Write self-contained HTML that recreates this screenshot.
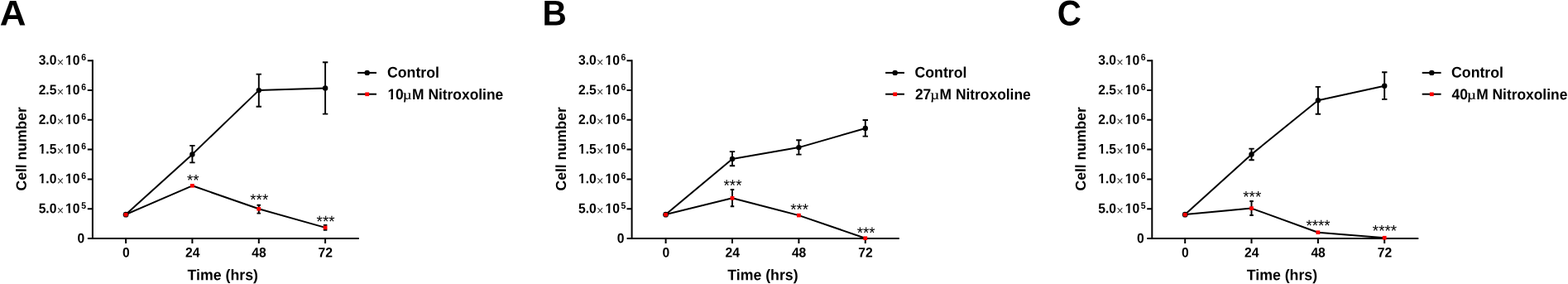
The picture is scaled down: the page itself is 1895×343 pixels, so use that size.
<!DOCTYPE html>
<html lang="en"><head><meta charset="utf-8"><title>Cell number vs time</title>
<style>
html,body{margin:0;padding:0;background:#fff;}
body{width:1895px;height:343px;overflow:hidden;}
svg{display:block;position:absolute;left:0;top:0;}
text{font-family:"Liberation Sans",sans-serif;font-weight:bold;fill:#000;}
.t{font-size:15.7px;}
.tt{font-size:17.75px;}
.lg{font-size:17.4px;}
.lgc{font-size:17.7px;}
.ty{font-size:17.5px;}
.L{font-size:42.9px;}
.s{font-size:18.8px;font-weight:normal;fill:#000;}
.x{font-weight:normal;font-size:14.5px;fill:#3a3a3a;}
.e{font-size:10.5px;}
.mu{font-family:"Liberation Serif","DejaVu Serif",serif;font-weight:normal;font-size:19px;stroke:#000;stroke-width:0.25;}
.m{fill:#fff;}
.ln{stroke:#000;stroke-width:2;fill:none;stroke-linecap:butt;stroke-linejoin:round;}
.eb{stroke:#000;stroke-width:1.9;fill:none;}
.ax{stroke:#000;stroke-width:2;fill:none;stroke-linecap:butt;}
</style></head><body>
<svg width="1895" height="343" viewBox="0 0 1895 343">
<rect width="1895" height="343" fill="#fff"/>
<g>
<g transform="translate(-0.34 30.45) rotate(0.04) scale(1.025 1)"><text id="t1" class="L">A</text></g>
<path class="ax" d="M111.9 72.2 V289.0"/>
<path class="ax" d="M105.9 288.0 H433.8"/>
<path class="ax" d="M105.8 73.2 H111.9M105.8 109.0 H111.9M105.8 144.8 H111.9M105.8 180.6 H111.9M105.8 216.4 H111.9M105.8 252.2 H111.9M152.1 288.0 V294.0M232.4 288.0 V294.0M312.8 288.0 V294.0M393.1 288.0 V294.0"/>
<g transform="translate(104.00 78.15) rotate(0.04) scale(1 1.06)"><text id="t2" class="t" text-anchor="end">3.0<tspan class="x" dx="0.3" dy="1.9">×</tspan><tspan dx="1.9" dy="-1.9">10</tspan><tspan class="e" dx="1.6" dy="-5">6</tspan></text><rect class="m" x="-24.70" y="-2.35" width="3.36" height="3.05"/><rect class="m" x="-18.95" y="-2.35" width="2.96" height="3.05"/></g>
<g transform="translate(104.00 113.96) rotate(0.04) scale(1 1.06)"><text id="t3" class="t" text-anchor="end">2.5<tspan class="x" dx="0.3" dy="1.9">×</tspan><tspan dx="1.9" dy="-1.9">10</tspan><tspan class="e" dx="1.6" dy="-5">6</tspan></text><rect class="m" x="-24.70" y="-2.35" width="3.36" height="3.05"/><rect class="m" x="-18.95" y="-2.35" width="2.96" height="3.05"/></g>
<g transform="translate(104.00 149.77) rotate(0.04) scale(1 1.06)"><text id="t4" class="t" text-anchor="end">2.0<tspan class="x" dx="0.3" dy="1.9">×</tspan><tspan dx="1.9" dy="-1.9">10</tspan><tspan class="e" dx="1.6" dy="-5">6</tspan></text><rect class="m" x="-24.70" y="-2.35" width="3.36" height="3.05"/><rect class="m" x="-18.95" y="-2.35" width="2.96" height="3.05"/></g>
<g transform="translate(104.00 185.57) rotate(0.04) scale(1 1.06)"><text id="t5" class="t" text-anchor="end">1.5<tspan class="x" dx="0.3" dy="1.9">×</tspan><tspan dx="1.9" dy="-1.9">10</tspan><tspan class="e" dx="1.6" dy="-5">6</tspan></text><rect class="m" x="-57.18" y="-2.35" width="3.36" height="3.05"/><rect class="m" x="-51.43" y="-2.35" width="2.96" height="3.05"/><rect class="m" x="-24.70" y="-2.35" width="3.36" height="3.05"/><rect class="m" x="-18.95" y="-2.35" width="2.96" height="3.05"/></g>
<g transform="translate(104.00 221.38) rotate(0.04) scale(1 1.06)"><text id="t6" class="t" text-anchor="end">1.0<tspan class="x" dx="0.3" dy="1.9">×</tspan><tspan dx="1.9" dy="-1.9">10</tspan><tspan class="e" dx="1.6" dy="-5">6</tspan></text><rect class="m" x="-57.18" y="-2.35" width="3.36" height="3.05"/><rect class="m" x="-51.43" y="-2.35" width="2.96" height="3.05"/><rect class="m" x="-24.70" y="-2.35" width="3.36" height="3.05"/><rect class="m" x="-18.95" y="-2.35" width="2.96" height="3.05"/></g>
<g transform="translate(104.00 257.19) rotate(0.04) scale(1 1.06)"><text id="t7" class="t" text-anchor="end">5.0<tspan class="x" dx="0.3" dy="1.9">×</tspan><tspan dx="1.9" dy="-1.9">10</tspan><tspan class="e" dx="1.6" dy="-5">5</tspan></text><rect class="m" x="-24.70" y="-2.35" width="3.36" height="3.05"/><rect class="m" x="-18.95" y="-2.35" width="2.96" height="3.05"/></g>
<g transform="translate(102.20 293.30) rotate(0.04) scale(1 1.05)"><text id="t8" class="t" text-anchor="end">0</text></g>
<g transform="translate(152.30 310.50) rotate(0.04) scale(1 1.05)"><text id="t9" class="t" text-anchor="middle">0</text></g>
<g transform="translate(232.63 310.50) rotate(0.04) scale(1 1.05)"><text id="t10" class="t" text-anchor="middle">24</text></g>
<g transform="translate(312.96 310.50) rotate(0.04) scale(1 1.05)"><text id="t11" class="t" text-anchor="middle">48</text></g>
<g transform="translate(393.29 310.50) rotate(0.04) scale(1 1.05)"><text id="t12" class="t" text-anchor="middle">72</text></g>
<g transform="translate(269.30 338.35) rotate(0.04) scale(1 1.035)"><text id="t13" class="tt" text-anchor="middle">Time (hrs)</text></g>
<g transform="translate(31.70 179.85) rotate(-89.96)"><text id="t14" class="ty" text-anchor="middle">Cell number</text></g>
<polyline class="ln" points="152.1,259.0 232.4,186.4 312.8,109.1 393.1,106.4"/>
<polyline class="ln" points="152.1,259.0 232.4,224.3 312.8,252.3 393.1,274.9"/>
<path class="eb" d="M232.4 175.9 V196.4 M229.23 175.9 h6.4 M229.23 196.4 h6.4M312.8 89.6 V128.7 M309.56 89.6 h6.4 M309.56 128.7 h6.4M393.1 75.3 V137.6 M389.89 75.3 h6.4 M389.89 137.6 h6.4M312.8 247.7 V257.6 M310.51 247.7 h4.5 M310.51 257.6 h4.5M393.1 271.9 V277.8 M390.84 271.9 h4.5 M390.84 277.8 h4.5"/>
<circle cx="152.1" cy="259.2" r="3.4" fill="#000"/>
<circle cx="232.4" cy="186.4" r="3.2" fill="#000"/>
<circle cx="312.8" cy="109.1" r="3.2" fill="#000"/>
<circle cx="393.1" cy="106.4" r="3.2" fill="#000"/>
<rect x="149.7" y="256.9" width="4.8" height="4.7" rx="1.3" fill="#f00"/>
<rect x="230.0" y="222.0" width="4.8" height="4.6" fill="#f00"/>
<rect x="310.4" y="250.0" width="4.8" height="4.6" fill="#f00"/>
<rect x="390.7" y="272.6" width="4.8" height="4.6" fill="#f00"/>
<g transform="translate(233.33 224.00) rotate(0.04)"><text id="t15" class="s" text-anchor="middle">**</text></g>
<g transform="translate(313.26 247.60) rotate(0.04)"><text id="t16" class="s" text-anchor="middle">***</text></g>
<g transform="translate(393.59 273.70) rotate(0.04)"><text id="t17" class="s" text-anchor="middle">***</text></g>
<path class="ln" d="M432.1 87.9 h22.9"/>
<circle cx="443.7" cy="87.9" r="3.2" fill="#000"/>
<g transform="translate(468.00 93.60) rotate(0.04) scale(1 1.035)"><text id="t18" class="lgc">Control</text></g>
<path class="ln" d="M432.1 113.7 h22.9"/>
<rect x="441.3" y="111.5" width="4.8" height="4.6" fill="#f00"/>
<g transform="translate(468.40 120.10) rotate(0.04) scale(1 1.045)"><text id="t19" class="lg">10</text><rect class="m" x="0.30" y="-2.53" width="3.65" height="3.23"/><rect class="m" x="6.57" y="-2.53" width="3.22" height="3.23"/></g>
<g transform="translate(486.80 119.80) rotate(0.04) scale(1 0.84)"><text id="t20" class="mu">µ</text></g>
<g transform="translate(498.10 120.10) rotate(0.04) scale(1 1.045)"><text id="t21" class="lg">M Nitroxoline</text></g>
</g>
<g>
<g transform="translate(655.57 30.45) rotate(0.04) scale(0.947 1)"><text id="t22" class="L">B</text></g>
<path class="ax" d="M763.6 72.2 V289.0"/>
<path class="ax" d="M757.6 288.0 H1086.8"/>
<path class="ax" d="M757.5 73.2 H763.6M757.5 109.0 H763.6M757.5 144.8 H763.6M757.5 180.6 H763.6M757.5 216.4 H763.6M757.5 252.2 H763.6M804.6 288.0 V294.0M885.0 288.0 V294.0M965.4 288.0 V294.0M1045.8 288.0 V294.0"/>
<g transform="translate(756.30 78.15) rotate(0.04) scale(1 1.06)"><text id="t23" class="t" text-anchor="end">3.0<tspan class="x" dx="0.3" dy="1.9">×</tspan><tspan dx="1.9" dy="-1.9">10</tspan><tspan class="e" dx="1.6" dy="-5">6</tspan></text><rect class="m" x="-24.70" y="-2.35" width="3.36" height="3.05"/><rect class="m" x="-18.95" y="-2.35" width="2.96" height="3.05"/></g>
<g transform="translate(756.30 113.96) rotate(0.04) scale(1 1.06)"><text id="t24" class="t" text-anchor="end">2.5<tspan class="x" dx="0.3" dy="1.9">×</tspan><tspan dx="1.9" dy="-1.9">10</tspan><tspan class="e" dx="1.6" dy="-5">6</tspan></text><rect class="m" x="-24.70" y="-2.35" width="3.36" height="3.05"/><rect class="m" x="-18.95" y="-2.35" width="2.96" height="3.05"/></g>
<g transform="translate(756.30 149.77) rotate(0.04) scale(1 1.06)"><text id="t25" class="t" text-anchor="end">2.0<tspan class="x" dx="0.3" dy="1.9">×</tspan><tspan dx="1.9" dy="-1.9">10</tspan><tspan class="e" dx="1.6" dy="-5">6</tspan></text><rect class="m" x="-24.70" y="-2.35" width="3.36" height="3.05"/><rect class="m" x="-18.95" y="-2.35" width="2.96" height="3.05"/></g>
<g transform="translate(756.30 185.57) rotate(0.04) scale(1 1.06)"><text id="t26" class="t" text-anchor="end">1.5<tspan class="x" dx="0.3" dy="1.9">×</tspan><tspan dx="1.9" dy="-1.9">10</tspan><tspan class="e" dx="1.6" dy="-5">6</tspan></text><rect class="m" x="-57.18" y="-2.35" width="3.36" height="3.05"/><rect class="m" x="-51.43" y="-2.35" width="2.96" height="3.05"/><rect class="m" x="-24.70" y="-2.35" width="3.36" height="3.05"/><rect class="m" x="-18.95" y="-2.35" width="2.96" height="3.05"/></g>
<g transform="translate(756.30 221.38) rotate(0.04) scale(1 1.06)"><text id="t27" class="t" text-anchor="end">1.0<tspan class="x" dx="0.3" dy="1.9">×</tspan><tspan dx="1.9" dy="-1.9">10</tspan><tspan class="e" dx="1.6" dy="-5">6</tspan></text><rect class="m" x="-57.18" y="-2.35" width="3.36" height="3.05"/><rect class="m" x="-51.43" y="-2.35" width="2.96" height="3.05"/><rect class="m" x="-24.70" y="-2.35" width="3.36" height="3.05"/><rect class="m" x="-18.95" y="-2.35" width="2.96" height="3.05"/></g>
<g transform="translate(756.30 257.19) rotate(0.04) scale(1 1.06)"><text id="t28" class="t" text-anchor="end">5.0<tspan class="x" dx="0.3" dy="1.9">×</tspan><tspan dx="1.9" dy="-1.9">10</tspan><tspan class="e" dx="1.6" dy="-5">5</tspan></text><rect class="m" x="-24.70" y="-2.35" width="3.36" height="3.05"/><rect class="m" x="-18.95" y="-2.35" width="2.96" height="3.05"/></g>
<g transform="translate(754.50 293.30) rotate(0.04) scale(1 1.05)"><text id="t29" class="t" text-anchor="end">0</text></g>
<g transform="translate(804.80 310.50) rotate(0.04) scale(1 1.05)"><text id="t30" class="t" text-anchor="middle">0</text></g>
<g transform="translate(885.20 310.50) rotate(0.04) scale(1 1.05)"><text id="t31" class="t" text-anchor="middle">24</text></g>
<g transform="translate(965.60 310.50) rotate(0.04) scale(1 1.05)"><text id="t32" class="t" text-anchor="middle">48</text></g>
<g transform="translate(1046.00 310.50) rotate(0.04) scale(1 1.05)"><text id="t33" class="t" text-anchor="middle">72</text></g>
<g transform="translate(921.90 338.35) rotate(0.04) scale(1 1.035)"><text id="t34" class="tt" text-anchor="middle">Time (hrs)</text></g>
<g transform="translate(684.00 179.85) rotate(-89.96)"><text id="t35" class="ty" text-anchor="middle">Cell number</text></g>
<polyline class="ln" points="804.6,259.0 885.0,191.9 965.4,178.1 1045.8,155.0"/>
<polyline class="ln" points="804.6,259.0 885.0,239.3 965.4,260.1 1045.8,287.7"/>
<path class="eb" d="M885.0 183.1 V200.2 M881.80 183.1 h6.4 M881.80 200.2 h6.4M965.4 169.3 V186.6 M962.20 169.3 h6.4 M962.20 186.6 h6.4M1045.8 145.0 V164.6 M1042.60 145.0 h6.4 M1042.60 164.6 h6.4M885.0 229.0 V249.3 M882.75 229.0 h4.5 M882.75 249.3 h4.5"/>
<circle cx="804.6" cy="259.2" r="3.4" fill="#000"/>
<circle cx="885.0" cy="191.9" r="3.2" fill="#000"/>
<circle cx="965.4" cy="178.1" r="3.2" fill="#000"/>
<circle cx="1045.8" cy="155.0" r="3.2" fill="#000"/>
<rect x="802.2" y="256.9" width="4.8" height="4.7" rx="1.3" fill="#f00"/>
<rect x="882.6" y="237.0" width="4.8" height="4.6" fill="#f00"/>
<rect x="963.0" y="257.8" width="4.8" height="4.6" fill="#f00"/>
<rect x="1043.4" y="285.4" width="4.8" height="4.6" fill="#f00"/>
<g transform="translate(885.50 230.20) rotate(0.04)"><text id="t36" class="s" text-anchor="middle">***</text></g>
<g transform="translate(966.15 259.15) rotate(0.04)"><text id="t37" class="s" text-anchor="middle">***</text></g>
<g transform="translate(1046.70 287.50) rotate(0.04)"><text id="t38" class="s" text-anchor="middle">***</text></g>
<path class="ln" d="M1070.1 87.9 h22.9"/>
<circle cx="1081.7" cy="87.9" r="3.2" fill="#000"/>
<g transform="translate(1105.50 93.60) rotate(0.04) scale(1 1.035)"><text id="t39" class="lgc">Control</text></g>
<path class="ln" d="M1070.1 113.7 h22.9"/>
<rect x="1079.3" y="111.5" width="4.8" height="4.6" fill="#f00"/>
<g transform="translate(1105.90 120.10) rotate(0.04) scale(1 1.045)"><text id="t40" class="lg">27</text></g>
<g transform="translate(1124.30 119.80) rotate(0.04) scale(1 0.84)"><text id="t41" class="mu">µ</text></g>
<g transform="translate(1135.60 120.10) rotate(0.04) scale(1 1.045)"><text id="t42" class="lg">M Nitroxoline</text></g>
</g>
<g>
<g transform="translate(1277.83 30.45) rotate(0.04) scale(0.94 1)"><text id="t43" class="L">C</text></g>
<path class="ax" d="M1392.3 72.2 V289.0"/>
<path class="ax" d="M1386.3 288.0 H1714.3"/>
<path class="ax" d="M1386.2 73.2 H1392.3M1386.2 109.0 H1392.3M1386.2 144.8 H1392.3M1386.2 180.6 H1392.3M1386.2 216.4 H1392.3M1386.2 252.2 H1392.3M1432.2 288.0 V294.0M1512.5 288.0 V294.0M1592.9 288.0 V294.0M1673.2 288.0 V294.0"/>
<g transform="translate(1384.60 78.15) rotate(0.04) scale(1 1.06)"><text id="t44" class="t" text-anchor="end">3.0<tspan class="x" dx="0.3" dy="1.9">×</tspan><tspan dx="1.9" dy="-1.9">10</tspan><tspan class="e" dx="1.6" dy="-5">6</tspan></text><rect class="m" x="-24.70" y="-2.35" width="3.36" height="3.05"/><rect class="m" x="-18.95" y="-2.35" width="2.96" height="3.05"/></g>
<g transform="translate(1384.60 113.96) rotate(0.04) scale(1 1.06)"><text id="t45" class="t" text-anchor="end">2.5<tspan class="x" dx="0.3" dy="1.9">×</tspan><tspan dx="1.9" dy="-1.9">10</tspan><tspan class="e" dx="1.6" dy="-5">6</tspan></text><rect class="m" x="-24.70" y="-2.35" width="3.36" height="3.05"/><rect class="m" x="-18.95" y="-2.35" width="2.96" height="3.05"/></g>
<g transform="translate(1384.60 149.77) rotate(0.04) scale(1 1.06)"><text id="t46" class="t" text-anchor="end">2.0<tspan class="x" dx="0.3" dy="1.9">×</tspan><tspan dx="1.9" dy="-1.9">10</tspan><tspan class="e" dx="1.6" dy="-5">6</tspan></text><rect class="m" x="-24.70" y="-2.35" width="3.36" height="3.05"/><rect class="m" x="-18.95" y="-2.35" width="2.96" height="3.05"/></g>
<g transform="translate(1384.60 185.57) rotate(0.04) scale(1 1.06)"><text id="t47" class="t" text-anchor="end">1.5<tspan class="x" dx="0.3" dy="1.9">×</tspan><tspan dx="1.9" dy="-1.9">10</tspan><tspan class="e" dx="1.6" dy="-5">6</tspan></text><rect class="m" x="-57.18" y="-2.35" width="3.36" height="3.05"/><rect class="m" x="-51.43" y="-2.35" width="2.96" height="3.05"/><rect class="m" x="-24.70" y="-2.35" width="3.36" height="3.05"/><rect class="m" x="-18.95" y="-2.35" width="2.96" height="3.05"/></g>
<g transform="translate(1384.60 221.38) rotate(0.04) scale(1 1.06)"><text id="t48" class="t" text-anchor="end">1.0<tspan class="x" dx="0.3" dy="1.9">×</tspan><tspan dx="1.9" dy="-1.9">10</tspan><tspan class="e" dx="1.6" dy="-5">6</tspan></text><rect class="m" x="-57.18" y="-2.35" width="3.36" height="3.05"/><rect class="m" x="-51.43" y="-2.35" width="2.96" height="3.05"/><rect class="m" x="-24.70" y="-2.35" width="3.36" height="3.05"/><rect class="m" x="-18.95" y="-2.35" width="2.96" height="3.05"/></g>
<g transform="translate(1384.60 257.19) rotate(0.04) scale(1 1.06)"><text id="t49" class="t" text-anchor="end">5.0<tspan class="x" dx="0.3" dy="1.9">×</tspan><tspan dx="1.9" dy="-1.9">10</tspan><tspan class="e" dx="1.6" dy="-5">5</tspan></text><rect class="m" x="-24.70" y="-2.35" width="3.36" height="3.05"/><rect class="m" x="-18.95" y="-2.35" width="2.96" height="3.05"/></g>
<g transform="translate(1382.80 293.30) rotate(0.04) scale(1 1.05)"><text id="t50" class="t" text-anchor="end">0</text></g>
<g transform="translate(1432.40 310.50) rotate(0.04) scale(1 1.05)"><text id="t51" class="t" text-anchor="middle">0</text></g>
<g transform="translate(1512.75 310.50) rotate(0.04) scale(1 1.05)"><text id="t52" class="t" text-anchor="middle">24</text></g>
<g transform="translate(1593.10 310.50) rotate(0.04) scale(1 1.05)"><text id="t53" class="t" text-anchor="middle">48</text></g>
<g transform="translate(1673.45 310.50) rotate(0.04) scale(1 1.05)"><text id="t54" class="t" text-anchor="middle">72</text></g>
<g transform="translate(1549.42 338.35) rotate(0.04) scale(1 1.035)"><text id="t55" class="tt" text-anchor="middle">Time (hrs)</text></g>
<g transform="translate(1312.10 179.85) rotate(-89.96)"><text id="t56" class="ty" text-anchor="middle">Cell number</text></g>
<polyline class="ln" points="1432.2,259.0 1512.5,186.4 1592.9,121.2 1673.2,103.7"/>
<polyline class="ln" points="1432.2,259.0 1512.5,251.6 1592.9,280.7 1673.2,287.2"/>
<path class="eb" d="M1512.5 179.6 V193.2 M1509.35 179.6 h6.4 M1509.35 193.2 h6.4M1592.9 104.9 V137.7 M1589.70 104.9 h6.4 M1589.70 137.7 h6.4M1673.2 87.3 V119.9 M1670.05 87.3 h6.4 M1670.05 119.9 h6.4M1512.5 243.0 V260.0 M1510.30 243.0 h4.5 M1510.30 260.0 h4.5"/>
<circle cx="1432.2" cy="259.2" r="3.4" fill="#000"/>
<circle cx="1512.5" cy="186.4" r="3.2" fill="#000"/>
<circle cx="1592.9" cy="121.2" r="3.2" fill="#000"/>
<circle cx="1673.2" cy="103.7" r="3.2" fill="#000"/>
<rect x="1429.8" y="256.9" width="4.8" height="4.7" rx="1.3" fill="#f00"/>
<rect x="1510.1" y="249.3" width="4.8" height="4.6" fill="#f00"/>
<rect x="1590.5" y="278.4" width="4.8" height="4.6" fill="#f00"/>
<rect x="1670.8" y="284.9" width="4.8" height="4.6" fill="#f00"/>
<g transform="translate(1513.25 243.90) rotate(0.04)"><text id="t57" class="s" text-anchor="middle">***</text></g>
<g transform="translate(1593.00 278.70) rotate(0.04)"><text id="t58" class="s" text-anchor="middle">****</text></g>
<g transform="translate(1673.45 284.90) rotate(0.04)"><text id="t59" class="s" text-anchor="middle">****</text></g>
<path class="ln" d="M1718.7 87.9 h22.9"/>
<circle cx="1730.3" cy="87.9" r="3.2" fill="#000"/>
<g transform="translate(1754.10 93.60) rotate(0.04) scale(1 1.035)"><text id="t60" class="lgc">Control</text></g>
<path class="ln" d="M1718.7 113.7 h22.9"/>
<rect x="1727.9" y="111.5" width="4.8" height="4.6" fill="#f00"/>
<g transform="translate(1754.50 120.10) rotate(0.04) scale(1 1.045)"><text id="t61" class="lg">40</text></g>
<g transform="translate(1772.90 119.80) rotate(0.04) scale(1 0.84)"><text id="t62" class="mu">µ</text></g>
<g transform="translate(1784.20 120.10) rotate(0.04) scale(1 1.045)"><text id="t63" class="lg">M Nitroxoline</text></g>
</g>
</svg>
</body></html>
